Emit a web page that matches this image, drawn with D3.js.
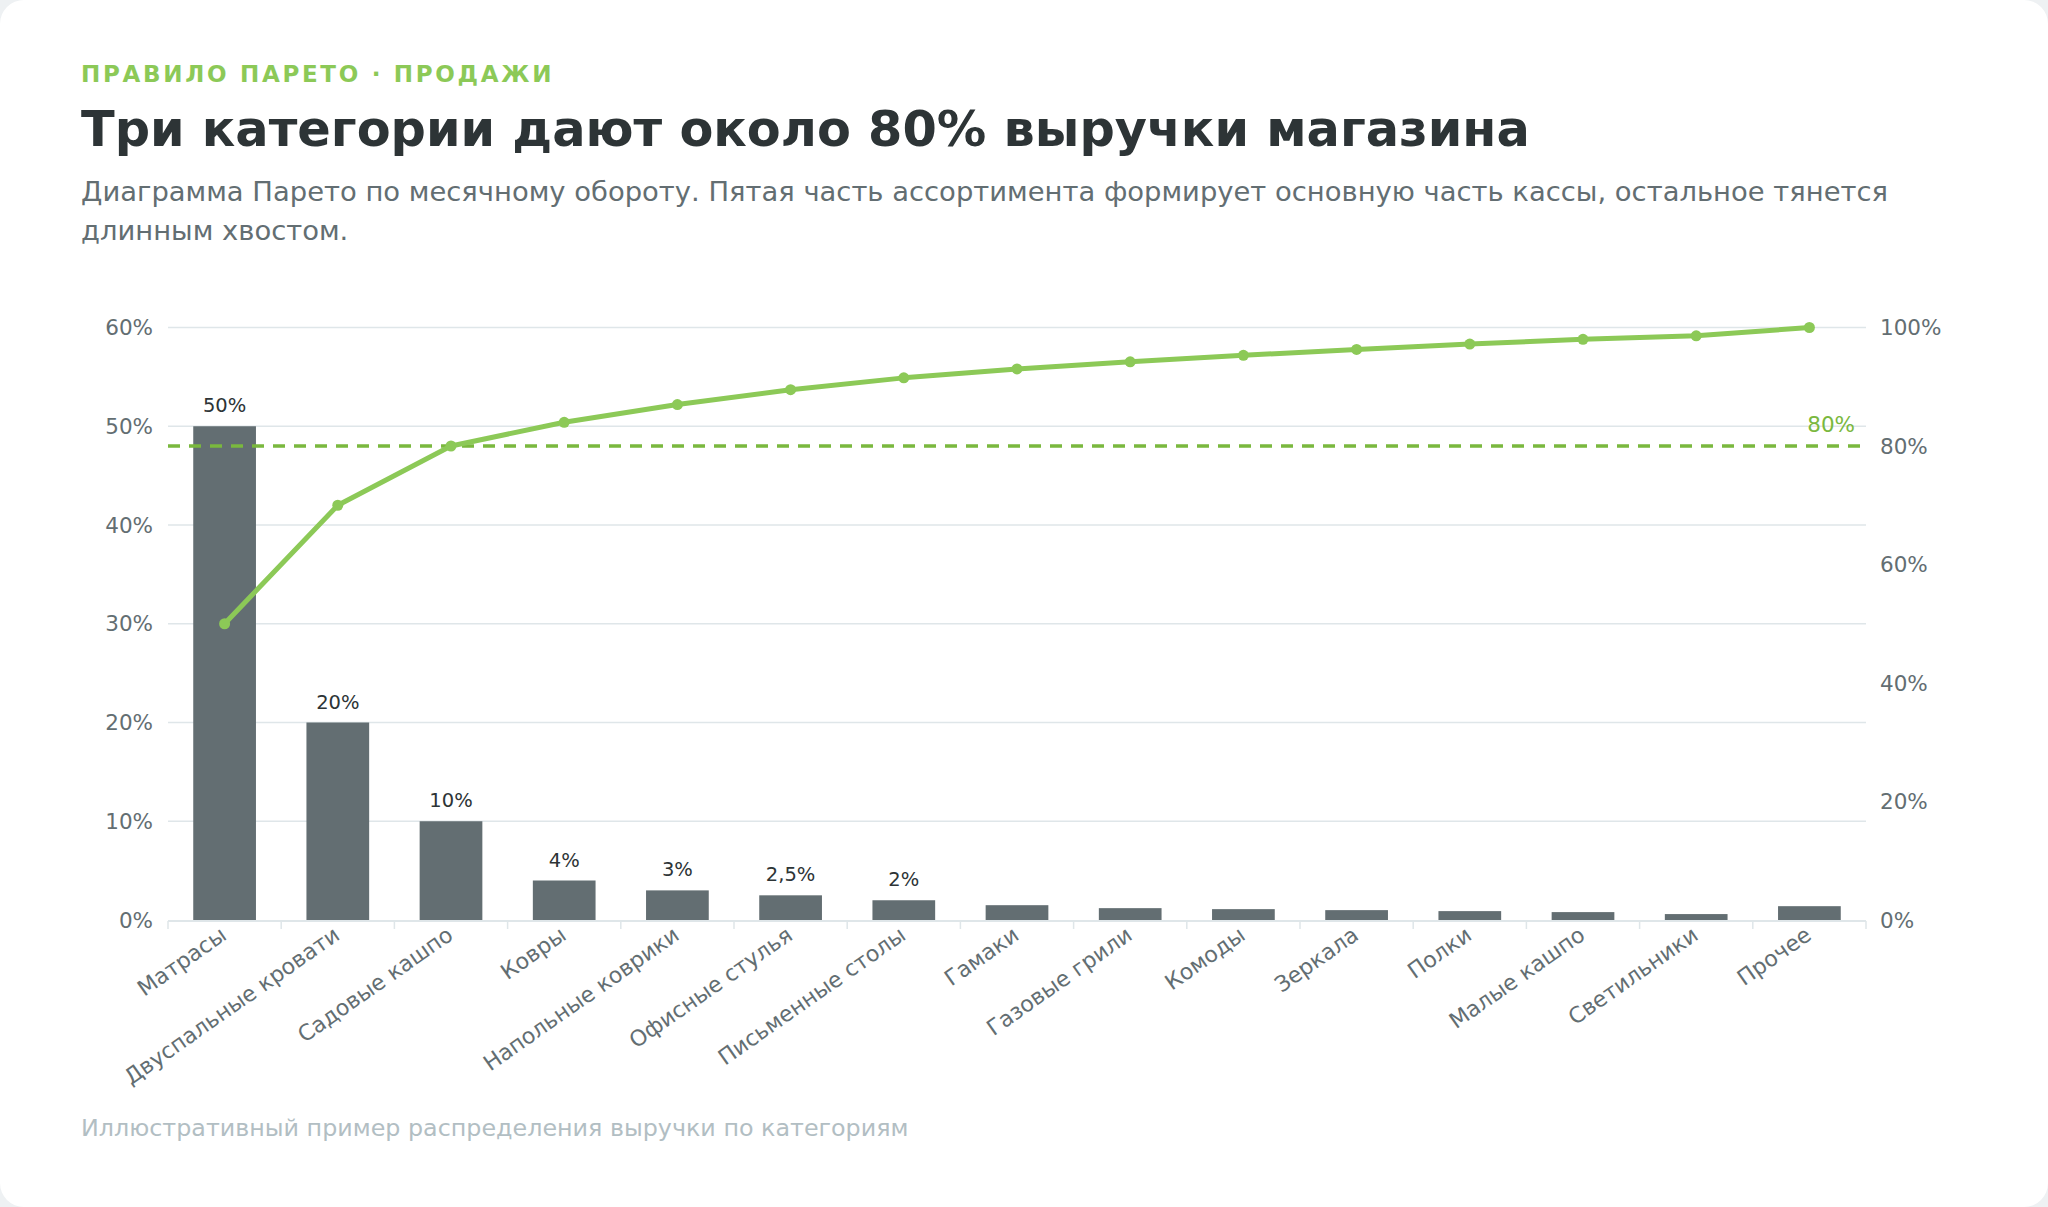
<!DOCTYPE html>
<html><head><meta charset="utf-8">
<script src="https://cdn.jsdelivr.net/npm/d3@7"></script>
<style>
html,body{margin:0;padding:0;background:#eef1f3;overflow:hidden;}
svg{display:block;font-family:"DejaVu Sans",sans-serif;}
</style></head><body>
<svg id="c" width="2048" height="1207"></svg>
<script>
// ---- data ----
const categories = ["Матрасы","Двуспальные кровати","Садовые кашпо","Ковры","Напольные коврики","Офисные стулья","Письменные столы","Гамаки","Газовые грили","Комоды","Зеркала","Полки","Малые кашпо","Светильники","Прочее"];
const shares = [50,20,10,4,3,2.5,2,1.5,1.2,1.1,1.0,0.9,0.8,0.6,1.4];
const cumulative = [50,70,80,84,87,89.5,91.5,93,94.2,95.3,96.3,97.2,98,98.6,100];
const leftTicks = [0,10,20,30,40,50,60];
const rightTicks = [0,20,40,60,80,100];
const threshold = 80;
const labelMin = 2;
const eyebrow = "ПРАВИЛО ПАРЕТО · ПРОДАЖИ";
const title = "Три категории дают около 80% выручки магазина";
const subtitleLines = ["Диаграмма Парето по месячному обороту. Пятая часть ассортимента формирует основную часть кассы, остальное тянется","длинным хвостом."];
const footer = "Иллюстративный пример распределения выручки по категориям";

// ---- style ----
const C = {bar:"#636e72", dark:"#2d3436", muted:"#636e72", grid:"#dfe6e9", foot:"#b2bec3", green:"#8cc957", greenDark:"#7ab83e"};
const W = 2048, H = 1207;
const plot = {left:168, right:1866, top:327.5, bottom:920};

const ru = d3.formatLocale({decimal:",", thousands:"\u00a0", grouping:[3], currency:["","₽"]});
const fmt = v => ru.format("~g")(v) + "%";

const svg = d3.select("#c");
svg.append("rect").attr("x",0).attr("y",0).attr("width",W).attr("height",H).attr("rx",24).attr("fill","#ffffff");

// headings
svg.append("text").attr("x",81).attr("y",82).attr("fill",C.green).attr("font-size",23).attr("font-weight","bold").attr("letter-spacing",2.7).text(eyebrow);
svg.append("text").attr("x",81).attr("y",146).attr("fill",C.dark).attr("font-size",49.4).attr("font-weight","bold").text(title);
svg.append("text").attr("fill",C.muted).attr("font-size",27.4)
  .selectAll("tspan").data(subtitleLines).join("tspan")
  .attr("x",81).attr("y",(d,i)=>201+i*39).text(d=>d);
svg.append("text").attr("x",81).attr("y",1136).attr("fill",C.foot).attr("font-size",23.8).text(footer);

// scales
const x = d3.scaleBand().domain(categories).range([plot.left, plot.right]).paddingInner(0.446).paddingOuter(0.223);
const yL = d3.scaleLinear().domain([0,60]).range([plot.bottom, plot.top]);
const yR = d3.scaleLinear().domain([0,100]).range([plot.bottom, plot.top]);
const bw = x.bandwidth();
const cx = c => x(c) + bw/2;

// gridlines
svg.append("g").selectAll("line").data(leftTicks.filter(t=>t>0)).join("line")
  .attr("x1",plot.left).attr("x2",plot.right)
  .attr("y1",d=>yL(d)).attr("y2",d=>yL(d))
  .attr("stroke",C.grid).attr("stroke-width",1.5);

// bars
svg.append("g").selectAll("rect").data(categories).join("rect")
  .attr("x",c=>x(c)).attr("width",bw)
  .attr("y",(c,i)=>yL(shares[i])).attr("height",(c,i)=>yL(0)-yL(shares[i]))
  .attr("fill",C.bar);

// x axis
const step = x.step();
const edges = categories.map(c => cx(c) - step/2).concat([cx(categories[categories.length-1]) + step/2]);
const xa = svg.append("g");
xa.append("line").attr("x1",plot.left).attr("x2",plot.right).attr("y1",plot.bottom+1).attr("y2",plot.bottom+1).attr("stroke",C.grid).attr("stroke-width",2);
xa.selectAll("line.tk").data(edges).join("line").attr("class","tk")
  .attr("x1",d=>d).attr("x2",d=>d).attr("y1",plot.bottom+1).attr("y2",plot.bottom+9)
  .attr("stroke",C.grid).attr("stroke-width",1.5);
xa.selectAll("text").data(categories).join("text")
  .attr("transform",c=>`translate(${cx(c)-1},${plot.bottom+12}) rotate(-35)`)
  .attr("text-anchor","end").attr("dy","0.35em")
  .attr("fill",C.muted).attr("font-size",22).text(c=>c);

// left axis labels
svg.append("g").selectAll("text").data(leftTicks).join("text")
  .attr("x",plot.left-15).attr("y",d=>yL(d)).attr("dy","0.35em").attr("text-anchor","end")
  .attr("fill",C.muted).attr("font-size",21.5).text(d=>d+"%");
// right axis labels
svg.append("g").selectAll("text").data(rightTicks).join("text")
  .attr("x",plot.right+14).attr("y",d=>yR(d)).attr("dy","0.35em").attr("text-anchor","start")
  .attr("fill",C.muted).attr("font-size",21.5).text(d=>d+"%");

// threshold line
svg.append("line").attr("x1",plot.left).attr("x2",plot.right)
  .attr("y1",yR(threshold)).attr("y2",yR(threshold))
  .attr("stroke",C.greenDark).attr("stroke-width",3.5).attr("stroke-dasharray","12 9");
svg.append("text").attr("x",plot.right-11).attr("y",yR(threshold)-14).attr("text-anchor","end")
  .attr("fill",C.greenDark).attr("font-size",21.5).text(threshold+"%");

// cumulative line
const line = d3.line().x((d,i)=>cx(categories[i])).y(d=>yR(d));
svg.append("path").datum(cumulative).attr("d",line).attr("fill","none")
  .attr("stroke",C.green).attr("stroke-width",5).attr("stroke-linejoin","round").attr("stroke-linecap","round");
svg.append("g").selectAll("circle").data(cumulative).join("circle")
  .attr("cx",(d,i)=>cx(categories[i])).attr("cy",d=>yR(d)).attr("r",5.5).attr("fill",C.green);

// value labels
svg.append("g").selectAll("text").data(categories.filter((c,i)=>shares[i]>=labelMin)).join("text")
  .attr("x",c=>cx(c)).attr("y",c=>yL(shares[categories.indexOf(c)])-14)
  .attr("text-anchor","middle").attr("fill",C.dark).attr("font-size",19.5)
  .text(c=>fmt(shares[categories.indexOf(c)]));
</script>
</body></html>
